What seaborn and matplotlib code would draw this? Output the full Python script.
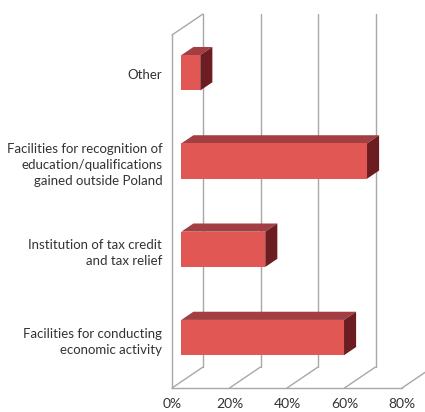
import matplotlib
matplotlib.use("Agg")
import matplotlib.pyplot as plt
import seaborn as sns
from matplotlib.transforms import Affine2D, IdentityTransform
from matplotlib.patches import Polygon
from matplotlib.ticker import FixedLocator, FuncFormatter

categories = [
    "Other",
    "Facilities for recognition of\neducation/qualifications\ngained outside Poland",
    "Institution of tax credit\nand tax relief",
    "Facilities for conducting\neconomic activity",
]
values = [6.6, 64.6, 29.2, 56.6]
x_ticks = [0, 20, 40, 60, 80]

front_col = "#e05754"
top_col = "#a33f43"
side_col = "#6b1d21"
grid_col = "#a8a8a8"

# depth of the 3d box in pixels, bars sit between t0 and t1 of that depth
DX, DY = 31, 21
t0, t1 = 0.30, 0.69

sns.set_style("white")
plt.rcParams["font.family"] = ["Lato", "DejaVu Sans"]

fig = plt.figure(figsize=(4.25, 4.12), dpi=100)
ax = fig.add_axes([172 / 425, 24 / 412, 230 / 425, 353 / 412])

sns.barplot(x=values, y=categories, orient="h", color=front_col, saturation=1,
            width=0.4, ax=ax, zorder=3)
ax.set_xlim(0, 80)
ax.set_ylim(3.5, -0.5)


def disp(x, y, t=0.0):
    px, py = ax.transData.transform((x, y))
    return (px + t * DX, py + t * DY)


def line(p, q):
    ax.plot([p[0], q[0]], [p[1], q[1]], color=grid_col, lw=1,
            transform=IdentityTransform(), clip_on=False, zorder=1)


# back wall gridlines and floor diagonals
for xv in x_ticks:
    line(disp(xv, 3.5), disp(xv, 3.5, 1))
    line(disp(xv, 3.5, 1), disp(xv, -0.5, 1))
# top edge of the left wall
line(disp(0, -0.5), disp(0, -0.5, 1))

# 3d faces on the bars
shift = Affine2D().translate(t0 * DX, t0 * DY)
for patch in ax.patches:
    x0, y0 = patch.get_x(), patch.get_y()
    w, h = patch.get_width(), patch.get_height()
    patch.set_transform(ax.transData + shift)
    patch.set_edgecolor("none")
    top = [disp(x0, y0, t0), disp(x0 + w, y0, t0),
           disp(x0 + w, y0, t1), disp(x0, y0, t1)]
    side = [disp(x0 + w, y0, t0), disp(x0 + w, y0 + h, t0),
            disp(x0 + w, y0 + h, t1), disp(x0 + w, y0, t1)]
    for pts, c in [(top, top_col), (side, side_col)]:
        ax.add_patch(Polygon(pts, closed=True, facecolor=c, edgecolor="none",
                             transform=IdentityTransform(), clip_on=False, zorder=2))

for s in ["top", "right"]:
    ax.spines[s].set_visible(False)
for s in ["left", "bottom"]:
    ax.spines[s].set_color(grid_col)
    ax.spines[s].set_linewidth(1)

ax.set_xticks(x_ticks)
ax.xaxis.set_major_formatter(FuncFormatter(lambda v, p: f"{v:.0f}%"))
ax.tick_params(axis="x", direction="out", length=3, width=1, color=grid_col,
               labelsize=10, labelcolor="#333333", pad=4)

ax.yaxis.set_major_locator(FixedLocator([-0.5, 0.5, 1.5, 2.5, 3.5]))
ax.yaxis.set_major_formatter(FuncFormatter(lambda v, p: ""))
ax.yaxis.set_minor_locator(FixedLocator([i - 0.06 for i in range(len(categories))]))
ax.set_yticklabels(categories, minor=True)
ax.tick_params(axis="y", which="major", direction="out", length=5, width=1, color=grid_col)
ax.tick_params(axis="y", which="minor", length=0, pad=7, labelsize=9.5,
               labelcolor="#333333")
for lab in ax.get_yticklabels(minor=True):
    lab.set_linespacing(1.4)
ax.set_xlabel("")
ax.set_ylabel("")

fig.savefig("out.png", dpi=100)
